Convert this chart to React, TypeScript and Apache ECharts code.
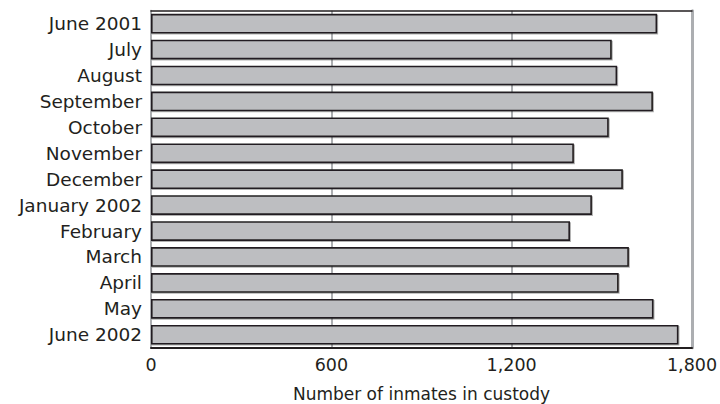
import React, { useEffect, useRef } from "react";
import * as echarts from "echarts";

const categories = [
  "June 2001",
  "July",
  "August",
  "September",
  "October",
  "November",
  "December",
  "January 2002",
  "February",
  "March",
  "April",
  "May",
  "June 2002",
];
const inmates = [1684, 1533, 1551, 1670, 1523, 1407, 1570, 1467, 1394, 1590, 1556, 1672, 1755];
const xTicks = [0, 600, 1200, 1800];
const axisName = "Number of inmates in custody";

const FONT = "DejaVu Sans";
const TEXT = "#231f20";
const GRAY = "#acaeb1";

export default function App() {
  const ref = useRef<HTMLDivElement>(null);
  useEffect(() => {
    if (!ref.current) return;
    const chart = echarts.init(ref.current, undefined, { renderer: "svg" });
    chart.setOption({
      animation: false,
      grid: {
        left: 151,
        right: 28,
        top: 10.7,
        bottom: 56.3,
        containLabel: false,
        outerBoundsMode: "none",
      },
      xAxis: [
        {
          type: "value",
          min: xTicks[0],
          max: xTicks[xTicks.length - 1],
          interval: 600,
          position: "bottom",
          axisLine: { show: true, onZero: false, lineStyle: { color: TEXT, width: 2 } },
          axisTick: { show: false },
          splitLine: { show: true, showMaxLine: false, lineStyle: { color: GRAY, width: 2 } },
          axisLabel: {
            show: true,
            margin: 8,
            fontFamily: FONT,
            fontSize: 17.5,
            color: TEXT,
            formatter: (v: number) => v.toLocaleString("en-US"),
          },
          name: axisName,
          nameLocation: "middle",
          nameGap: 38,
          nameTextStyle: { fontFamily: FONT, fontSize: 17, color: TEXT },
        },
        {
          type: "value",
          min: xTicks[0],
          max: xTicks[xTicks.length - 1],
          interval: 600,
          position: "top",
          axisLine: { show: true, onZero: false, lineStyle: { color: TEXT, width: 1.5 } },
          axisTick: { show: false },
          splitLine: { show: false },
          axisLabel: { show: false },
        },
      ],
      yAxis: [
        {
          type: "category",
          data: categories,
          inverse: true,
          axisLine: { show: true, onZero: false, lineStyle: { color: GRAY, width: 2 } },
          axisTick: { show: false },
          axisLabel: { margin: 9, fontFamily: FONT, fontSize: 18.5, color: TEXT },
        },
        {
          type: "category",
          data: categories,
          inverse: true,
          position: "right",
          axisLine: { show: true, onZero: false, lineStyle: { color: GRAY, width: 3 } },
          axisTick: { show: false },
          axisLabel: { show: false },
        },
      ],
      series: [
        {
          type: "bar",
          data: inmates,
          xAxisIndex: 0,
          yAxisIndex: 0,
          barCategoryGap: "24%",
          itemStyle: {
            color: "#bdbec1",
            borderColor: TEXT,
            borderWidth: 1.6,
            shadowColor: "rgba(0,0,0,0.3)",
            shadowOffsetX: 1,
            shadowOffsetY: 1,
            shadowBlur: 1,
          },
        },
      ],
    });
    return () => chart.dispose();
  }, []);
  return <div ref={ref} style={{ width: 720, height: 404, position: "absolute", left: 0, top: 0 }} />;
}
